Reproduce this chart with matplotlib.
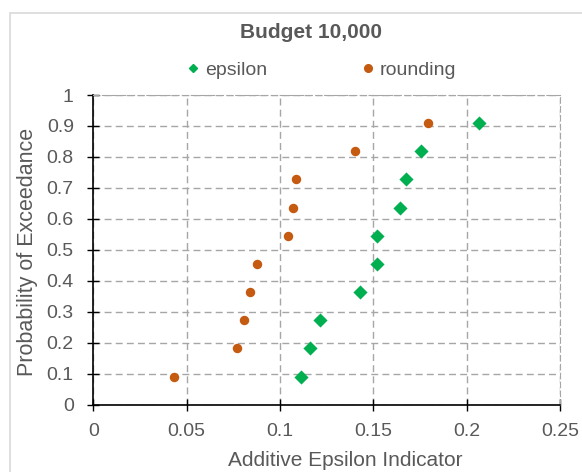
# budget_10000.py
# epsilon vs rounding: Additive Epsilon Indicator 분포 (Budget 10,000)

import matplotlib.pyplot as plt
from matplotlib.lines import Line2D
from matplotlib.patches import Rectangle

TITLE = "Budget 10,000"
OUT_PNG = "out.png"

# 확률 (k/11)
prob = [0.0909, 0.1818, 0.2727, 0.3636, 0.4545, 0.5455, 0.6364, 0.7273, 0.8182, 0.9091]

# 시리즈 값
eps_epsilon = [0.1113, 0.1162, 0.1213, 0.1429, 0.1518, 0.1518, 0.1645, 0.1677, 0.1755, 0.2066]
eps_rounding = [0.0432, 0.0768, 0.0806, 0.0841, 0.0877, 0.1043, 0.1068, 0.1086, 0.1400, 0.1793]

x_ticks = [0, 0.05, 0.1, 0.15, 0.2, 0.25]
x_tick_labels = ["0", "0.05", "0.1", "0.15", "0.2", "0.25"]
y_ticks = [0, 0.1, 0.2, 0.3, 0.4, 0.5, 0.6, 0.7, 0.8, 0.9, 1]
y_tick_labels = ["0", "0.1", "0.2", "0.3", "0.4", "0.5", "0.6", "0.7", "0.8", "0.9", "1"]

GREEN = "#00B050"
ORANGE = "#C55A11"
TXT = "#595959"
GRID = "#A6A6A6"

plt.rcParams["font.family"] = ["Liberation Sans", "DejaVu Sans"]

W, H = 582, 472
fig = plt.figure(figsize=(W / 100, H / 100), dpi=100)

# 차트 테두리
fig.patches.append(Rectangle((10 / W, -0.1), 1.2, 1.1 - 13 / H,
                             transform=fig.transFigure, fill=False,
                             edgecolor="#D9D9D9", linewidth=1.2))

ax = fig.add_axes([93.3 / W, 1 - 404.7 / H, (560 - 93.3) / W, (404.7 - 95) / H])

ax.scatter(eps_epsilon, prob, marker="D", s=7.2 ** 2, color=GREEN, zorder=3,
           linewidths=0)
ax.scatter(eps_rounding, prob, marker="o", s=6.8 ** 2, color=ORANGE, zorder=3,
           linewidths=0)

ax.set_xlim(0, 0.25)
ax.set_ylim(0, 1)
ax.set_xticks(x_ticks)
ax.set_xticklabels(x_tick_labels)
ax.set_yticks(y_ticks)
ax.set_yticklabels(y_tick_labels)

ax.grid(True, color=GRID, linestyle=(0, (5, 3)), linewidth=1.0)
ax.set_axisbelow(True)

for side in ["top", "right"]:
    ax.spines[side].set_color(GRID)
    ax.spines[side].set_linestyle((0, (5, 3)))
for side in ["left", "bottom"]:
    ax.spines[side].set_color("black")
    ax.spines[side].set_linewidth(1.2)

ax.tick_params(direction="inout", length=8, width=1.0, color="black",
               labelsize=14, labelcolor=TXT)
ax.tick_params(axis="x", pad=9)
ax.tick_params(axis="y", pad=10)

# 축 제목 (위치는 그림 픽셀 기준)
fig.text(345 / W, 1 - 461 / H, "Additive Epsilon Indicator", ha="center",
         va="center", fontsize=15, color=TXT)
fig.text(28 / W, 1 - 252 / H, "Probability of Exceedance", ha="center",
         va="center", rotation=90, fontsize=15.5, color=TXT)

fig.text(311 / W, 1 - 33 / H, TITLE, ha="center", va="center",
         fontsize=15, fontweight="bold", color=TXT)

handles = [
    Line2D([], [], marker="D", linestyle="none", color=GREEN, markersize=4.5),
    Line2D([], [], marker="o", linestyle="none", color=ORANGE, markersize=5.5),
]
fig.legend(handles, ["epsilon", "rounding"], loc="center",
           bbox_to_anchor=(322 / W, 1 - 70 / H), ncol=2, frameon=False,
           fontsize=14, labelcolor=TXT, handlelength=0.6, handletextpad=0.3,
           columnspacing=4.9)

fig.savefig(OUT_PNG, dpi=100)
plt.close(fig)
